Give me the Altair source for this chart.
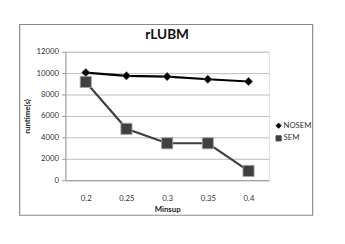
import altair as alt
import pandas as pd

minsup = ["0.2", "0.25", "0.3", "0.35", "0.4"]
nosem = [10050, 9750, 9680, 9430, 9220]
sem = [9180, 4800, 3450, 3450, 870]
series = ["NOSEM", "SEM"]

rows = []
for s, vals in zip(series, [nosem, sem]):
    for m, v in zip(minsup, vals):
        rows.append({"Minsup": m, "runtime": v, "series": s})
df = pd.DataFrame(rows)

FONT = "Lato"

x = alt.X("Minsup:N", sort=minsup, title="Minsup",
          scale=alt.Scale(paddingInner=0, paddingOuter=0.5),
          axis=alt.Axis(labelAngle=0, labelFontSize=8, titleFontSize=8, titleFontWeight="bold",
                        labelFont=FONT, titleFont=FONT, ticks=False, domainColor="#999999",
                        labelColor="#333333", titleColor="#222222", labelPadding=15, titlePadding=3))
y = alt.Y("runtime:Q", title="runtime(s)",
          scale=alt.Scale(domain=[0, 12000]),
          axis=alt.Axis(values=[0, 2000, 4000, 6000, 8000, 10000, 12000], format="d",
                        labelFontSize=8, titleFontSize=8, titleFontWeight="bold",
                        labelFont=FONT, titleFont=FONT, tickSize=4, tickColor="#999999",
                        domainColor="#999999", gridColor="#bbbbbb", labelColor="#333333",
                        titleColor="#222222", titlePadding=5, labelPadding=3))
leg = dict(title=None, orient="none", legendX=215, legendY=72,
           labelFont=FONT, labelFontSize=8, symbolSize=28, symbolStrokeWidth=1,
           rowPadding=3, labelColor="#333333", labelOffset=1)
color = alt.Color("series:N", scale=alt.Scale(domain=series, range=["#000000", "#404040"]),
                  legend=alt.Legend(**leg))
shape = alt.Shape("series:N", scale=alt.Scale(domain=series, range=["diamond", "square"]),
                  legend=alt.Legend(**leg))

base = alt.Chart(df)
lines = base.mark_line(strokeWidth=2.2).encode(x=x, y=y, color=color)
pts_n = base.transform_filter(alt.datum.series == "NOSEM").mark_point(
    filled=True, opacity=1, size=75, stroke="#777777", strokeWidth=0.6
).encode(x=x, y=y, color=color, shape=shape)
pts_s = base.transform_filter(alt.datum.series == "SEM").mark_point(
    filled=True, opacity=1, size=130, stroke="#a0a0a0", strokeWidth=0.9
).encode(x=x, y=y, color=color, shape=shape)
frame = alt.Chart(pd.DataFrame({"a": [0]})).mark_rect(
    fill="transparent", strokeWidth=1.2, clip=False
).encode(x=alt.value(-47), x2=alt.value(254), y=alt.value(-28), y2=alt.value(168),
         stroke=alt.value("#8a8a8a"))

chart = alt.layer(frame, lines, pts_n, pts_s).properties(
    width=209, height=132,
    title=alt.TitleParams("rLUBM", font=FONT, fontSize=14, fontWeight="bold",
                          anchor="middle", frame="group", offset=-19, color="#111111"),
    autosize=alt.AutoSizeParams(type="none"),
    padding={"left": 59, "top": 42, "right": 70, "bottom": 40},
).configure_view(stroke=None).configure(background="white")

chart.save("out.html", embed_options={"renderer": "svg", "actions": False})
